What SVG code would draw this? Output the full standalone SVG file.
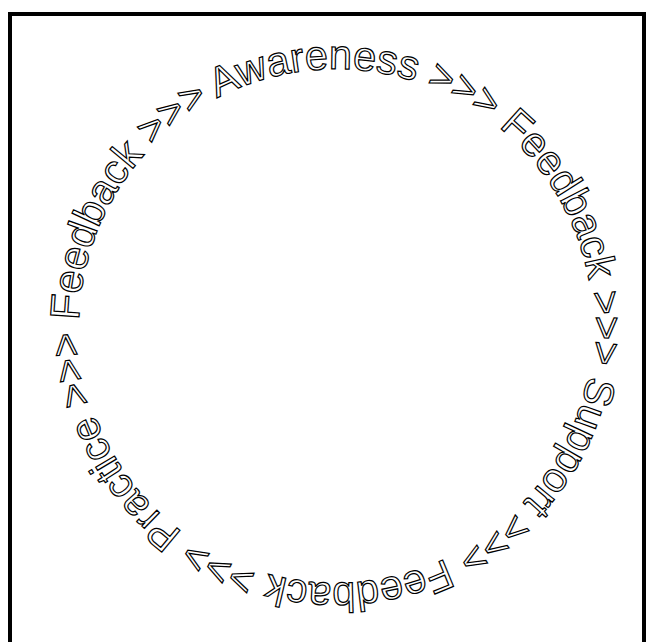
<svg xmlns="http://www.w3.org/2000/svg" xmlns:xlink="http://www.w3.org/1999/xlink" width="650" height="642" viewBox="0 0 650 642">
<style>
.ring{font-family:"Liberation Sans",Arial,sans-serif;font-size:41.4px;fill:#fff;stroke:#000;stroke-width:1.2px;}
.frame{fill:none;stroke:#000;stroke-width:4px;}
</style>
<defs>
<path id="circ" d="M 216.9 98.2 A 257 257 0 0 1 455.1 553.8 A 257 257 0 0 1 216.9 98.2"/>
</defs>
<rect x="0" y="0" width="650" height="642" fill="#fff"/>
<rect class="frame" x="10" y="14" width="634" height="650"/>
<text class="ring"><textPath xlink:href="#circ" href="#circ">Awareness &gt;&gt;&gt; Feedback &gt;&gt;&gt; Support &gt;&gt;&gt; Feedback &gt;&gt;&gt; Practice &gt;&gt;&gt; Feedback &gt;&gt;&gt; </textPath></text>
</svg>
